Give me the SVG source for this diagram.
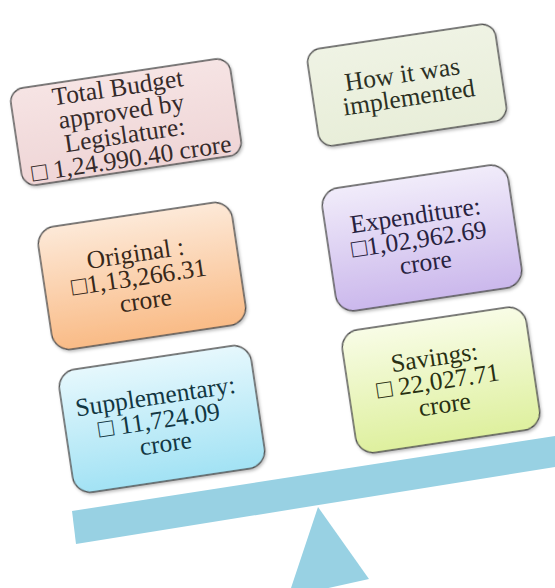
<svg xmlns="http://www.w3.org/2000/svg" width="555" height="588" viewBox="0 0 555 588">
  <defs>
    <linearGradient id="gPink" x1="0" y1="0" x2="0" y2="1"><stop offset="0" stop-color="#f6e4e4"/><stop offset="1" stop-color="#efd5d6"/></linearGradient>
    <linearGradient id="gGrey" x1="0" y1="0" x2="0" y2="1"><stop offset="0" stop-color="#eff3e4"/><stop offset="1" stop-color="#e8eed9"/></linearGradient>
    <linearGradient id="gOrange" x1="0" y1="0" x2="0" y2="1"><stop offset="0" stop-color="#fde9d8"/><stop offset="1" stop-color="#f9bb86"/></linearGradient>
    <linearGradient id="gPurple" x1="0" y1="0" x2="0" y2="1"><stop offset="0" stop-color="#f1ecfa"/><stop offset="1" stop-color="#cbb8ec"/></linearGradient>
    <linearGradient id="gCyan" x1="0" y1="0" x2="0" y2="1"><stop offset="0" stop-color="#e6f8fd"/><stop offset="1" stop-color="#a2e2f4"/></linearGradient>
    <linearGradient id="gYellow" x1="0" y1="0" x2="0" y2="1"><stop offset="0" stop-color="#f8fce6"/><stop offset="1" stop-color="#def09e"/></linearGradient>
    <filter id="shadow" x="-10%" y="-10%" width="125%" height="130%">
      <feDropShadow dx="1" dy="2" stdDeviation="1.5" flood-color="#000" flood-opacity="0.25"/>
    </filter>
  </defs>
  <style>
    .box { stroke: #505050; stroke-width: 1.4; filter: url(#shadow); }
    .lbl { font-family: "Liberation Serif", "Times New Roman", serif; font-size: 25.5px; text-anchor: middle; }
    .bal { fill: #98d1e3; }
  </style>

  <g id="balance">
    <polygon class="bal" points="72,511 555,436 555,467 76,544"/>
    <polygon class="bal" points="318,507 369,579 288,597"/>
  </g>

  <g id="connectors"></g>

  <g id="total-budget" transform="translate(126,122) rotate(-8.5)">
    <rect class="box" x="-111" y="-49" width="222" height="98" rx="14" fill="url(#gPink)"/>
    <text class="lbl" fill="#352a2a">
      <tspan x="0" y="-27">Total Budget</tspan>
      <tspan x="0" y="-3">approved by</tspan>
      <tspan x="0" y="21">Legislature:</tspan>
      <tspan x="0" y="45">□ 1,24.990.40 crore</tspan>
    </text>
  </g>

  <g id="how-implemented" transform="translate(407,85) rotate(-8.5)">
    <rect class="box" x="-95" y="-49" width="190" height="98" rx="14" fill="url(#gGrey)"/>
    <text class="lbl" fill="#2b3024">
      <tspan x="0" y="-3">How it was</tspan>
      <tspan x="0" y="21">implemented</tspan>
    </text>
  </g>

  <g id="original" transform="translate(142,276) rotate(-8.5)">
    <rect class="box" x="-98" y="-62" width="196" height="124" rx="18" fill="url(#gOrange)"/>
    <text class="lbl" fill="#37281a">
      <tspan x="0" y="-15">Original :</tspan>
      <tspan x="0" y="9">□1,13,266.31</tspan>
      <tspan x="0" y="33">crore</tspan>
    </text>
  </g>

  <g id="expenditure" transform="translate(422,238) rotate(-8.5)">
    <rect class="box" x="-94" y="-62" width="188" height="124" rx="18" fill="url(#gPurple)"/>
    <text class="lbl" fill="#28223f">
      <tspan x="0" y="-15">Expenditure:</tspan>
      <tspan x="0" y="9">□1,02,962.69</tspan>
      <tspan x="0" y="33">crore</tspan>
    </text>
  </g>

  <g id="supplementary" transform="translate(162,419) rotate(-8.5)">
    <rect class="box" x="-97" y="-62" width="194" height="124" rx="18" fill="url(#gCyan)"/>
    <text class="lbl" fill="#123743">
      <tspan x="0" y="-15">Supplementary:</tspan>
      <tspan x="0" y="9">□ 11,724.09</tspan>
      <tspan x="0" y="33">crore</tspan>
    </text>
  </g>

  <g id="savings" transform="translate(441,380) rotate(-8.5)">
    <rect class="box" x="-93" y="-62" width="186" height="124" rx="18" fill="url(#gYellow)"/>
    <text class="lbl" fill="#293012">
      <tspan x="0" y="-15">Savings:</tspan>
      <tspan x="0" y="9">□ 22,027.71</tspan>
      <tspan x="0" y="33">crore</tspan>
    </text>
  </g>
</svg>
